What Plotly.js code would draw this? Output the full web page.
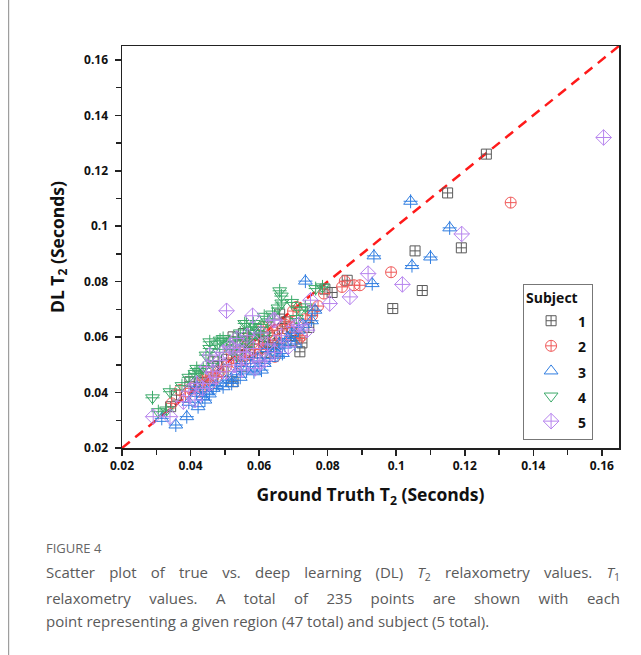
<!DOCTYPE html>
<html><head><meta charset="utf-8">
<script src="https://cdn.plot.ly/plotly-3.0.1.min.js"></script>
<style>html,body{margin:0;padding:0;background:#fff;} #chart{width:641px;height:655px;}</style>
</head><body><div id="chart"></div>
<script>
const subjectNames = ['1','2','3','4','5'];
const subjectColors = ['#5a5a5a','#f05a5a','#2f7de1','#3caa6a','#b784ee'];

const s1x = [0.1263,0.115,0.119,0.1055,0.1076,0.099,0.0857,0.0813,0.0792,0.066,0.0725,0.0693,0.0668,0.0612,0.0554,0.0524,0.0524,0.0359,0.0342,0.0398,0.0466,0.0719,0.0635,0.0585,0.0572,0.0645,0.0695,0.0615,0.0545,0.0505,0.048,0.0445,0.0425,0.0495,0.0535,0.0595,0.0655,0.0705,0.0678,0.062,0.0588,0.0548,0.0465,0.0415,0.0755,0.0745,0.0565];
const s1y = [0.126,0.112,0.0922,0.0911,0.0768,0.0703,0.0805,0.0761,0.0773,0.0683,0.0579,0.0587,0.0631,0.0601,0.0613,0.0601,0.0439,0.0391,0.0349,0.0439,0.0511,0.0547,0.0562,0.0575,0.0545,0.0605,0.0615,0.0585,0.0572,0.052,0.0495,0.0455,0.0435,0.0475,0.0535,0.0525,0.0578,0.0605,0.0655,0.0545,0.0608,0.0495,0.0445,0.0415,0.0695,0.0635,0.0585];

const s2x = [0.1334,0.0985,0.0894,0.0877,0.085,0.0842,0.0789,0.0709,0.0699,0.0755,0.0717,0.0688,0.0646,0.0649,0.0612,0.0466,0.0345,0.0369,0.04,0.0427,0.0558,0.0625,0.0635,0.0655,0.0598,0.0545,0.0505,0.0485,0.0455,0.0435,0.0575,0.0605,0.0665,0.0675,0.0735,0.0725,0.0525,0.0565,0.0385,0.0445,0.0515,0.0585,0.0695,0.0625,0.0475,0.0535,0.0772];
const s2y = [0.1085,0.0834,0.0787,0.0787,0.0802,0.0781,0.0757,0.0709,0.0694,0.0679,0.0595,0.0655,0.0529,0.0589,0.0637,0.0457,0.0361,0.0409,0.0415,0.0403,0.0517,0.0615,0.0635,0.0625,0.0575,0.0545,0.0495,0.0475,0.0425,0.0445,0.0535,0.0555,0.0595,0.0645,0.0665,0.0605,0.0525,0.0595,0.0385,0.0475,0.0555,0.0555,0.0635,0.0575,0.0455,0.0505,0.0712];

const s3x = [0.1042,0.1156,0.0935,0.110,0.1046,0.093,0.0735,0.0763,0.0753,0.0695,0.0675,0.0668,0.0624,0.0631,0.0607,0.0563,0.0534,0.052,0.0495,0.052,0.0466,0.0447,0.0418,0.0418,0.0442,0.0422,0.0389,0.0357,0.0316,0.0575,0.0595,0.0645,0.0705,0.0715,0.0545,0.0505,0.0475,0.0455,0.0585,0.0615,0.0655,0.0685,0.0395,0.0435,0.0548,0.0728,0.0658];
const s3y = [0.109,0.0994,0.0893,0.0889,0.0858,0.0793,0.0802,0.0697,0.0659,0.0613,0.0571,0.0541,0.0559,0.0523,0.0481,0.0481,0.0475,0.0445,0.0421,0.0433,0.0415,0.0403,0.0397,0.0421,0.0373,0.0349,0.0313,0.0283,0.0307,0.0505,0.0525,0.0555,0.0575,0.0625,0.0455,0.0445,0.0425,0.0395,0.0475,0.0505,0.0535,0.0595,0.0365,0.0385,0.0505,0.0645,0.0575];

const s4x = [0.0289,0.034,0.0306,0.033,0.0418,0.0413,0.0437,0.0456,0.0456,0.0505,0.0495,0.0486,0.0544,0.0568,0.0558,0.0583,0.0563,0.0593,0.0588,0.0534,0.0639,0.066,0.0665,0.0666,0.0709,0.0735,0.0785,0.0719,0.0575,0.0605,0.0625,0.0478,0.0515,0.0545,0.0525,0.0465,0.0395,0.0375,0.0445,0.0615,0.0655,0.0695,0.0615,0.0425,0.0765,0.0485,0.0572];
const s4y = [0.0381,0.0403,0.0331,0.0337,0.0487,0.0469,0.0487,0.0583,0.0559,0.0571,0.0595,0.0589,0.0589,0.0565,0.0649,0.0649,0.0649,0.0613,0.0637,0.0535,0.0683,0.0767,0.0748,0.0723,0.0667,0.0709,0.0781,0.0697,0.0625,0.0635,0.0655,0.0575,0.0585,0.0615,0.0555,0.0505,0.0455,0.0425,0.0535,0.0675,0.0705,0.0725,0.0605,0.0475,0.0775,0.0545,0.0595];

const s5x = [0.1605,0.1191,0.0918,0.1018,0.0865,0.0806,0.075,0.074,0.0505,0.0581,0.0702,0.0641,0.0515,0.0456,0.0544,0.0583,0.0563,0.0602,0.0529,0.0549,0.0588,0.0617,0.0291,0.034,0.0379,0.0413,0.0418,0.0447,0.0456,0.0524,0.0646,0.0485,0.0505,0.0475,0.0435,0.0625,0.0665,0.0685,0.0535,0.0495,0.0605,0.0565,0.0395,0.0715,0.0645,0.0555,0.0465];
const s5y = [0.132,0.0972,0.0829,0.079,0.0745,0.0721,0.0733,0.0625,0.0695,0.0677,0.0638,0.0661,0.0565,0.0535,0.0547,0.0559,0.0523,0.0511,0.0499,0.0481,0.0487,0.0517,0.0313,0.0313,0.0367,0.0373,0.0433,0.0493,0.0433,0.0559,0.0661,0.0515,0.0475,0.0455,0.0415,0.0575,0.0605,0.0565,0.0595,0.0545,0.0615,0.0605,0.0405,0.0645,0.0545,0.0545,0.0475];

const identityLine = [0.02, 0.165];
const axisRange = [0.02, 0.165];
const tickLabels = ['0.02','0.04','0.06','0.08','0.1','0.12','0.14','0.16'];
const tickValues = [0.02,0.04,0.06,0.08,0.10,0.12,0.14,0.16];

const xs = [s1x,s2x,s3x,s4x,s5x];
const ys = [s1y,s2y,s3y,s4y,s5y];
const symbols = ['square-cross-open','circle-cross-open','triangle-up-open','triangle-down-open','diamond-cross-open'];
const sizes = [10,11,12,12,12];

const traces = [];
traces.push({x: identityLine, y: identityLine, mode:'lines', showlegend:false, hoverinfo:'skip',
  line:{color:'#ff1a1a', width:2.5, dash:'10px,7px'}});
for (let i=0;i<5;i++){
  traces.push({x: xs[i], y: ys[i], mode:'markers', name: '<span style="font-size:14px">'+subjectNames[i]+'</span>', legendgroup:'g'+i,
    marker:{symbol:symbols[i], size:sizes[i], color:subjectColors[i], line:{color:subjectColors[i], width:1}}});
  if (i===2 || i===3){
    traces.push({x: xs[i], y: ys[i], mode:'markers', showlegend:false, legendgroup:'g'+i, hoverinfo:'skip',
      marker:{symbol:'cross-thin-open', size:10, color:subjectColors[i], line:{color:subjectColors[i], width:1}}});
  }
}

const tickFont = {family:'Open Sans, sans-serif', size:12, color:'#111', weight:'bold'};
const titleFont = {family:'Open Sans, sans-serif', size:17.5, color:'#111', weight:'bold'};

const layout = {
  width:641, height:655,
  margin:{l:122, r:22, t:46, b:207},
  paper_bgcolor:'#fff', plot_bgcolor:'#fff',
  showlegend:true,
  font:{family:'Open Sans, sans-serif'},
  xaxis:{range:axisRange, tickvals:tickValues, ticktext:tickLabels, ticks:'outside', ticklen:6, tickwidth:1.5, tickcolor:'#222',
    minor:{dtick:0.01, tick0:0.01, ticks:'outside', ticklen:5, tickwidth:1.5, tickcolor:'#222'},
    showline:true, linecolor:'#222', linewidth:1.5, mirror:true, showgrid:false, zeroline:false,
    tickfont:tickFont, title:{text:'Ground Truth T<sub>2</sub> (Seconds)', font:titleFont, standoff:16}},
  yaxis:{range:axisRange, tickvals:tickValues, ticktext:tickLabels, ticks:'outside', ticklen:6, tickwidth:1.5, tickcolor:'#222',
    minor:{dtick:0.01, tick0:0.01, ticks:'outside', ticklen:5, tickwidth:1.5, tickcolor:'#222'},
    showline:true, linecolor:'#222', linewidth:1.5, mirror:true, showgrid:false, zeroline:false,
    tickfont:tickFont, ticklabelstandoff:4, title:{text:'DL T<sub>2</sub> (Seconds)', font:titleFont, standoff:15}},
  xaxis2:{range:axisRange, overlaying:'x', side:'top', tickvals:tickValues, ticks:'inside', ticklen:6, tickwidth:1.5, tickcolor:'#222',
    minor:{dtick:0.01, tick0:0.01, ticks:'inside', ticklen:5, tickwidth:1.5, tickcolor:'#222'},
    showticklabels:false, showgrid:false, zeroline:false, showline:false},
  yaxis2:{range:axisRange, overlaying:'y', side:'right', tickvals:tickValues, ticks:'inside', ticklen:6, tickwidth:1.5, tickcolor:'#222',
    minor:{dtick:0.01, tick0:0.01, ticks:'inside', ticklen:5, tickwidth:1.5, tickcolor:'#222'},
    showticklabels:false, showgrid:false, zeroline:false, showline:false},
  legend:{x:0.807, y:0.408, xanchor:'left', yanchor:'top', bgcolor:'#fff', bordercolor:'#777', borderwidth:1,
    title:{text:'<b>Subject</b>', font:{family:'Open Sans, sans-serif', size:14, color:'#111'}},
    font:{family:'Open Sans, sans-serif', size:17, color:'#111', weight:'bold'}, itemwidth:44, tracegroupgap:0},
  shapes:[{type:'line', xref:'paper', yref:'paper', x0:-0.228, x1:-0.228, y0:1.12, y1:-0.52, line:{color:'#8a8a8a', width:1}}],
  annotations:[
    {xref:'paper', yref:'paper', x:-0.157, y:-0.2488, xanchor:'left', yanchor:'middle', showarrow:false, align:'left',
      text:'FIGURE 4', font:{family:'Open Sans, sans-serif', size:13, color:'#666'}},
    {xref:'paper', yref:'paper', x:-0.157, y:-0.311, xanchor:'left', yanchor:'middle', showarrow:false, align:'left',
      text:'Scatter plot of true vs. deep learning (DL) <i>T</i><sub>2</sub> relaxometry values. <i>T</i><sub>1</sub>', font:{family:'Open Sans, sans-serif', size:15, color:'#5a5a5a'}},
    {xref:'paper', yref:'paper', x:-0.157, y:-0.373, xanchor:'left', yanchor:'middle', showarrow:false, align:'left',
      text:'relaxometry values. A total of 235 points are shown with each', font:{family:'Open Sans, sans-serif', size:15, color:'#5a5a5a'}},
    {xref:'paper', yref:'paper', x:-0.157, y:-0.430, xanchor:'left', yanchor:'middle', showarrow:false, align:'left',
      text:'point representing a given region (47 total) and subject (5 total).', font:{family:'Open Sans, sans-serif', size:15, color:'#5a5a5a'}}
  ]
};

Plotly.newPlot('chart', traces, layout, {displayModeBar:false, staticPlot:true}).then(function(){
  const anns = document.querySelectorAll('#chart .annotation');
  const targetRight = 620;
  [1,2].forEach(function(idx){
    const g = anns[idx]; if(!g) return;
    const t = g.querySelector('text.annotation-text'); if(!t) return;
    const bb = t.getBoundingClientRect();
    const spaces = (t.textContent.match(/ /g)||[]).length;
    const extra = targetRight - bb.right;
    if (spaces>0 && extra>0) t.setAttribute('word-spacing', (extra/spaces).toFixed(2));
  });
});
</script></body></html>
